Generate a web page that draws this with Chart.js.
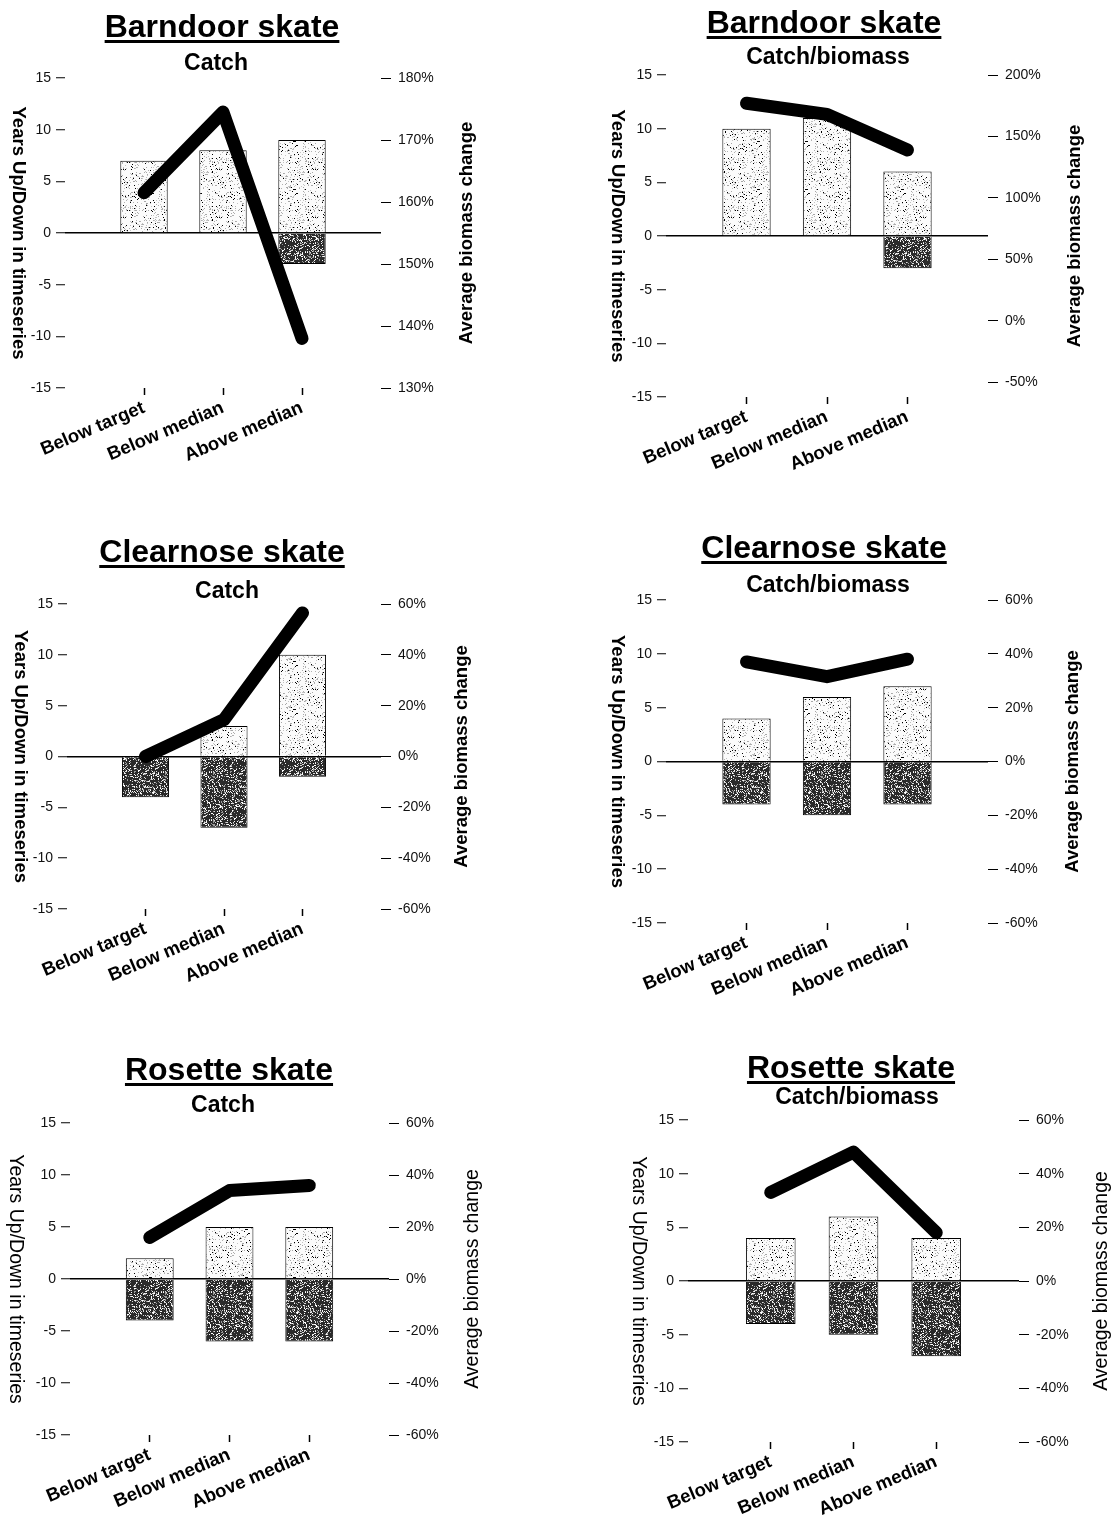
<!DOCTYPE html>
<html>
<head>
<meta charset="utf-8">
<script src="https://cdn.jsdelivr.net/npm/chart.js@4.4.1/dist/chart.umd.min.js"></script>
<style>
  html, body { margin: 0; padding: 0; background: #fff; }
  body { position: relative; width: 1113px; height: 1518px; overflow: hidden; }
  canvas { position: absolute; }
</style>
</head>
<body>
<canvas id="c1"></canvas>
<canvas id="c2"></canvas>
<canvas id="c3"></canvas>
<canvas id="c4"></canvas>
<canvas id="c5"></canvas>
<canvas id="c6"></canvas>
<script>
// categories and tick labels
const categories = ['Below target', 'Below median', 'Above median'];
const leftTicks = [-15, -10, -5, 0, 5, 10, 15];
const ticksBarndoorCatch = [130, 140, 150, 160, 170, 180];
const ticksBarndoorRatio = [-50, 0, 50, 100, 150, 200];
const ticksSixty = [-60, -40, -20, 0, 20, 40, 60];

// years up / down, and average biomass change (%)
const barndoorCatchUp = [7, 8, 9];
const barndoorCatchDown = [0, 0, -3];
const barndoorCatchChange = [161.5, 174.5, 138];

const barndoorRatioUp = [10, 11, 6];
const barndoorRatioDown = [0, 0, -3];
const barndoorRatioChange = [177, 168, 139];

const clearnoseCatchUp = [0, 3, 10];
const clearnoseCatchDown = [-4, -7, -2];
const clearnoseCatchChange = [0, 14.5, 56.5];

const clearnoseRatioUp = [4, 6, 7];
const clearnoseRatioDown = [-4, -5, -4];
const clearnoseRatioChange = [37, 31.5, 38];

const rosetteCatchUp = [2, 5, 5];
const rosetteCatchDown = [-4, -6, -6];
const rosetteCatchChange = [16, 34, 36];

const rosetteRatioUp = [4, 6, 4];
const rosetteRatioDown = [-4, -5, -7];
const rosetteRatioChange = [33, 48, 18];

const FONT = "'Liberation Sans', Arial, sans-serif";
Chart.defaults.font.family = FONT;

// stippled bar texture, fixed hash so it looks the same every time
function stipple(base, inks, count, seed) {
    const c = document.createElement('canvas');
    c.width = c.height = 48;
    const g = c.getContext('2d');
    g.fillStyle = base;
    g.fillRect(0, 0, 48, 48);
    const h = n => {
        const v = Math.sin(n * 12.9898 + seed * 78.233) * 43758.5453;
        return v - Math.floor(v);
    };
    for (let i = 0; i < count; i++) {
        g.fillStyle = inks[i % inks.length];
        g.fillRect(Math.floor(h(2 * i + 1) * 48), Math.floor(h(2 * i + 2) * 48), 1, 1);
    }
    return g.createPattern(c, 'repeat');
}
const lightFill = stipple('#fbfbfb', ['#000000', '#a8a8a8', '#c4c4c4', '#b0b0b0'], 380, 3);
const darkFill = stipple('#2a2a2a', ['#ffffff', '#9a9a9a', '#dadada'], 760, 5);

// draws titles, underline and the two rotated axis titles
const panelText = {
    id: 'panelText',
    afterDraw(chart, args, o) {
        const g = chart.ctx;
        const area = chart.chartArea;
        const mid = (area.top + area.bottom) / 2;
        g.save();
        g.fillStyle = '#000';
        g.textAlign = 'center';
        g.textBaseline = 'alphabetic';
        g.font = 'bold 32px ' + FONT;
        g.fillText(o.title, o.titleX, o.titleY);
        const w = g.measureText(o.title).width;
        g.fillRect(o.titleX - w / 2, o.titleY + 3, w, 3);
        g.font = 'bold 23px ' + FONT;
        g.fillText(o.sub, o.subX, o.subY);

        g.font = (o.bold ? 'bold 18.5px ' : '19.5px ') + FONT;
        g.textBaseline = 'middle';
        g.save();
        g.translate(o.leftX, mid);
        g.rotate(Math.PI / 2);
        g.fillText('Years Up/Down in timeseries', 0, 0);
        g.restore();
        g.save();
        g.translate(o.rightX, mid);
        g.rotate(-Math.PI / 2);
        g.fillText('Average biomass change', 0, 0);
        g.restore();
        g.restore();
    }
};

const panels = [
    { id: 'c1', title: 'Barndoor skate', sub: 'Catch', up: barndoorCatchUp, down: barndoorCatchDown, change: barndoorCatchChange,
      rightTicks: ticksBarndoorCatch, rMin: 130, rMax: 180, bold: true,
      box: { x: 0, y: 0, w: 500, h: 490 }, area: { l: 65, r: 381, t: 78, b: 388 },
      text: { titleX: 222, titleY: 37, subX: 216, subY: 70, leftX: 18, rightX: 467 } },
    { id: 'c2', title: 'Barndoor skate', sub: 'Catch/biomass', up: barndoorRatioUp, down: barndoorRatioDown, change: barndoorRatioChange,
      rightTicks: ticksBarndoorRatio, rMin: -62, rMax: 200, bold: true,
      box: { x: 560, y: 0, w: 553, h: 490 }, area: { l: 666, r: 988, t: 75, b: 397 },
      text: { titleX: 824, titleY: 33, subX: 828, subY: 64, leftX: 617, rightX: 1075 } },
    { id: 'c3', title: 'Clearnose skate', sub: 'Catch', up: clearnoseCatchUp, down: clearnoseCatchDown, change: clearnoseCatchChange,
      rightTicks: ticksSixty, rMin: -60, rMax: 60, bold: true,
      box: { x: 0, y: 520, w: 500, h: 490 }, area: { l: 67, r: 381, t: 604, b: 909 },
      text: { titleX: 222, titleY: 562, subX: 227, subY: 598, leftX: 20, rightX: 462 } },
    { id: 'c4', title: 'Clearnose skate', sub: 'Catch/biomass', up: clearnoseRatioUp, down: clearnoseRatioDown, change: clearnoseRatioChange,
      rightTicks: ticksSixty, rMin: -60, rMax: 60, bold: true,
      box: { x: 560, y: 520, w: 553, h: 490 }, area: { l: 666, r: 988, t: 600, b: 923 },
      text: { titleX: 824, titleY: 558, subX: 828, subY: 592, leftX: 617, rightX: 1073 } },
    { id: 'c5', title: 'Rosette skate', sub: 'Catch', up: rosetteCatchUp, down: rosetteCatchDown, change: rosetteCatchChange,
      rightTicks: ticksSixty, rMin: -60, rMax: 60, bold: false,
      box: { x: 0, y: 1040, w: 500, h: 478 }, area: { l: 70, r: 389, t: 1123, b: 1435 },
      text: { titleX: 229, titleY: 1080, subX: 223, subY: 1112, leftX: 15, rightX: 473 } },
    { id: 'c6', title: 'Rosette skate', sub: 'Catch/biomass', up: rosetteRatioUp, down: rosetteRatioDown, change: rosetteRatioChange,
      rightTicks: ticksSixty, rMin: -60, rMax: 60, bold: false,
      box: { x: 560, y: 1040, w: 553, h: 478 }, area: { l: 688, r: 1019, t: 1120, b: 1442 },
      text: { titleX: 851, titleY: 1078, subX: 857, subY: 1104, leftX: 638, rightX: 1102 } }
];

function pad(arr) {
    return [null, ...arr, null];
}

panels.forEach(p => {
    const canvas = document.getElementById(p.id);
    const b = p.box, a = p.area, t = p.text;
    canvas.width = b.w;
    canvas.height = b.h;
    canvas.style.left = b.x + 'px';
    canvas.style.top = b.y + 'px';

    const leftW = a.l - b.x;
    const rightW = b.x + b.w - a.r;
    const bottomH = b.y + b.h - a.b;
    const edge = c => c.index === 0 || c.index === categories.length + 1;

    new Chart(canvas.getContext('2d'), {
        type: 'bar',
        data: {
            labels: ['', ...categories, ''],
            datasets: [
                {
                    type: 'line',
                    data: pad(p.change),
                    yAxisID: 'y2',
                    borderColor: '#000',
                    borderWidth: 13,
                    borderCapStyle: 'round',
                    borderJoinStyle: 'round',
                    pointRadius: 0,
                    tension: 0,
                    order: 0
                },
                {
                    data: pad(p.up),
                    yAxisID: 'y',
                    backgroundColor: lightFill,
                    borderColor: '#000',
                    borderWidth: 1,
                    grouped: false,
                    order: 1
                },
                {
                    data: pad(p.down),
                    yAxisID: 'y',
                    backgroundColor: darkFill,
                    borderColor: '#000',
                    borderWidth: 1,
                    grouped: false,
                    order: 2
                }
            ]
        },
        options: {
            responsive: false,
            animation: false,
            events: [],
            layout: {
                padding: { top: a.t - b.y, left: 0, right: 0, bottom: 0 }
            },
            datasets: {
                bar: { barPercentage: 0.6, categoryPercentage: 1 }
            },
            scales: {
                x: {
                    offset: false,
                    border: { display: false },
                    grid: {
                        offset: false,
                        drawOnChartArea: false,
                        tickLength: 7,
                        tickWidth: 1.5,
                        tickColor: c => edge(c) ? 'rgba(0,0,0,0)' : '#000'
                    },
                    ticks: {
                        autoSkip: false,
                        minRotation: 23,
                        maxRotation: 23,
                        padding: 2,
                        color: '#000',
                        font: { size: 18.5, weight: 'bold' }
                    },
                    afterFit: s => { s.height = bottomH; }
                },
                y: {
                    position: 'left',
                    min: -15,
                    max: 15,
                    border: { display: false },
                    grid: {
                        color: c => c.tick && c.tick.value === 0 ? '#000' : 'rgba(0,0,0,0)',
                        lineWidth: 1.5,
                        tickColor: '#000',
                        tickLength: 9,
                        tickWidth: 1
                    },
                    ticks: {
                        autoSkip: false,
                        padding: 5,
                        color: '#111',
                        font: { size: 14 }
                    },
                    afterBuildTicks: s => { s.ticks = leftTicks.map(v => ({ value: v })); },
                    afterFit: s => { s.width = leftW; }
                },
                y2: {
                    position: 'right',
                    min: p.rMin,
                    max: p.rMax,
                    border: { display: false },
                    grid: {
                        drawOnChartArea: false,
                        tickColor: '#000',
                        tickLength: 10,
                        tickWidth: 1
                    },
                    ticks: {
                        autoSkip: false,
                        padding: 7,
                        color: '#111',
                        font: { size: 14 },
                        callback: v => v + '%'
                    },
                    afterBuildTicks: s => { s.ticks = p.rightTicks.map(v => ({ value: v })); },
                    afterFit: s => { s.width = rightW; }
                }
            },
            plugins: {
                legend: { display: false },
                tooltip: { enabled: false },
                panelText: {
                    title: p.title,
                    sub: p.sub,
                    bold: p.bold,
                    titleX: t.titleX - b.x,
                    titleY: t.titleY - b.y,
                    subX: t.subX - b.x,
                    subY: t.subY - b.y,
                    leftX: t.leftX - b.x,
                    rightX: t.rightX - b.x
                }
            }
        },
        plugins: [panelText]
    });
});
</script>
</body>
</html>
